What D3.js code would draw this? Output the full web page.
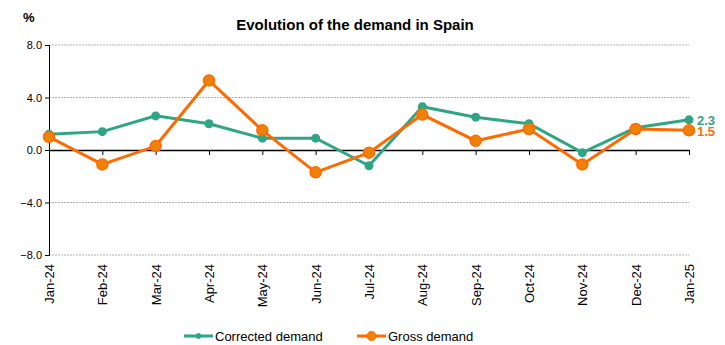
<!DOCTYPE html>
<html>
<head>
<meta charset="utf-8">
<script src="https://cdn.jsdelivr.net/npm/d3@7"></script>
<style>
	body { margin: 0; background: #fff; }
	text { font-family: "Liberation Sans", Arial, sans-serif; }
</style>
</head>
<body>
<div id="container"></div>
<script>
// 1. Data
const months = ["Jan-24", "Feb-24", "Mar-24", "Apr-24", "May-24", "Jun-24", "Jul-24",
	"Aug-24", "Sep-24", "Oct-24", "Nov-24", "Dec-24", "Jan-25"]
const corrected = [1.2, 1.4, 2.6, 2.0, 0.9, 0.9, -1.2, 3.3, 2.5, 2.0, -0.2, 1.7, 2.3]
const gross = [1.0, -1.1, 0.3, 5.3, 1.5, -1.7, -0.2, 2.7, 0.7, 1.6, -1.1, 1.6, 1.5]
const yTicks = [-8, -4, 0, 4, 8]

const green = "#2ea585"
const orange = "#ff6a00"

// 2. Dimensions
const width = 725
const height = 345
const margin = { top: 45, right: 36, bottom: 90, left: 49 }

// 3. Canvas
const svg = d3.select("#container")
	.append("svg")
	.attr("width", width)
	.attr("height", height)

// 4. Scales
const x = d3.scalePoint()
	.domain(months)
	.range([margin.left, width - margin.right])

const y = d3.scaleLinear()
	.domain([-8, 8])
	.range([height - margin.bottom, margin.top])

// 5. Peripherals
// grid
svg.append("g")
	.selectAll("line")
	.data(yTicks.filter(d => d !== 0))
	.join("line")
	.attr("x1", margin.left)
	.attr("x2", width - margin.right)
	.attr("y1", d => y(d))
	.attr("y2", d => y(d))
	.attr("stroke", "#b0b0b0")
	.attr("stroke-width", 1)
	.attr("stroke-dasharray", "2,1")

// y axis
const yAxis = svg.append("g")
	.attr("transform", `translate(${margin.left},0)`)
	.call(d3.axisLeft(y).tickValues(yTicks).tickFormat(d3.format(".1f")).tickSize(4).tickPadding(3))
yAxis.select(".domain").attr("stroke", "#000")
yAxis.selectAll("text")
	.attr("font-size", 11)
	.attr("fill", "#000")

// x axis on zero line
const xAxis = svg.append("g")
	.attr("transform", `translate(0,${y(0)})`)
	.call(d3.axisBottom(x).tickSize(5).tickSizeOuter(0).tickFormat(""))
xAxis.select(".domain").attr("stroke", "#000").attr("stroke-width", 1.3)

// x labels at bottom
svg.append("g")
	.selectAll("text")
	.data(months)
	.join("text")
	.attr("transform", d => `translate(${x(d) + 5},${y(-8) + 9}) rotate(-90)`)
	.attr("text-anchor", "end")
	.attr("font-size", 13)
	.text(d => d)

// title
svg.append("text")
	.attr("x", 355)
	.attr("y", 30)
	.attr("text-anchor", "middle")
	.attr("font-size", 15)
	.attr("font-weight", "bold")
	.text("Evolution of the demand in Spain")

svg.append("text")
	.attr("x", 23)
	.attr("y", 22)
	.attr("font-size", 13)
	.attr("font-weight", "bold")
	.text("%")

// 6. Series
const line = d3.line()
	.x((d, i) => x(months[i]))
	.y(d => y(d))

svg.append("path")
	.datum(corrected)
	.attr("d", line)
	.attr("fill", "none")
	.attr("stroke", green)
	.attr("stroke-width", 3)

svg.append("g")
	.selectAll("circle")
	.data(corrected)
	.join("circle")
	.attr("cx", (d, i) => x(months[i]))
	.attr("cy", d => y(d))
	.attr("r", 4.5)
	.attr("fill", green)

svg.append("path")
	.datum(gross)
	.attr("d", line)
	.attr("fill", "none")
	.attr("stroke", orange)
	.attr("stroke-width", 3)

svg.append("g")
	.selectAll("circle")
	.data(gross)
	.join("circle")
	.attr("cx", (d, i) => x(months[i]))
	.attr("cy", d => y(d))
	.attr("r", 5.5)
	.attr("fill", "#ee8208")
	.attr("stroke", orange)
	.attr("stroke-width", 1.5)

// end labels
const last = months.length - 1
svg.append("text")
	.attr("x", x(months[last]) + 8)
	.attr("y", y(corrected[last]) + 5)
	.attr("font-size", 13)
	.attr("font-weight", "bold")
	.attr("fill", green)
	.text(d3.format(".1f")(corrected[last]))

svg.append("text")
	.attr("x", x(months[last]) + 8)
	.attr("y", y(gross[last]) + 6)
	.attr("font-size", 13)
	.attr("font-weight", "bold")
	.attr("fill", orange)
	.text(d3.format(".1f")(gross[last]))

// 7. Legend
const legendItems = [
	{ name: "Corrected demand", color: green, fill: green, r: 2.5, x: 184 },
	{ name: "Gross demand", color: orange, fill: "#ee8208", r: 4.5, x: 357 },
]
const legend = svg.append("g")
	.selectAll("g")
	.data(legendItems)
	.join("g")
	.attr("transform", d => `translate(${d.x},336)`)

legend.append("line")
	.attr("x1", 0)
	.attr("x2", 29)
	.attr("stroke", d => d.color)
	.attr("stroke-width", 3)

legend.append("circle")
	.attr("cx", 14.5)
	.attr("r", d => d.r)
	.attr("fill", d => d.fill)
	.attr("stroke", d => d.color)

legend.append("text")
	.attr("x", 31)
	.attr("y", 5)
	.attr("font-size", 13)
	.text(d => d.name)
</script>
</body>
</html>
